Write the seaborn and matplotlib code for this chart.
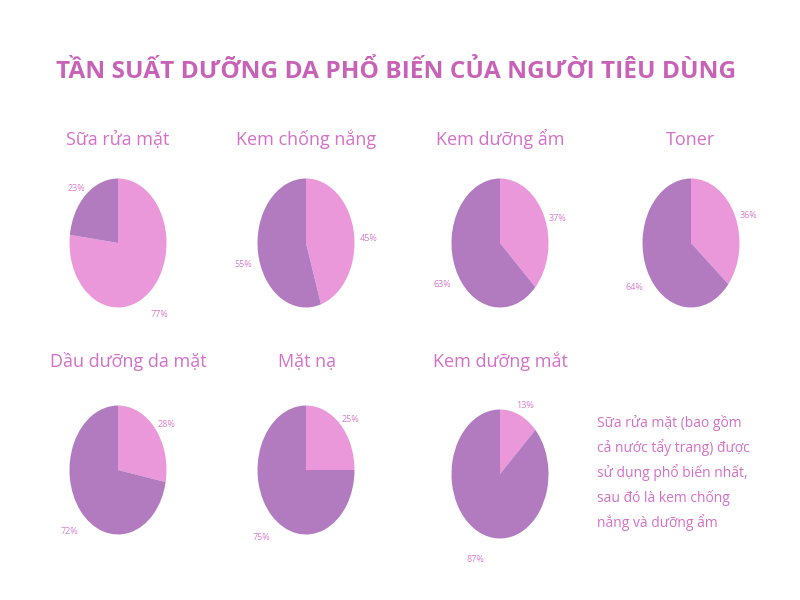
import matplotlib
matplotlib.use('Agg')
import matplotlib.pyplot as plt
import seaborn as sns

# data
title = 'TẦN SUẤT DƯỠNG DA PHỔ BIẾN CỦA NGƯỜI TIÊU DÙNG'
categories = ['Sữa rửa mặt', 'Kem chống nắng', 'Kem dưỡng ẩm', 'Toner',
              'Dầu dưỡng da mặt', 'Mặt nạ', 'Kem dưỡng mắt']
share_pink = [77, 45, 37, 36, 28, 25, 13]
share_purple = [23, 55, 63, 64, 72, 75, 87]
note_lines = ['Sữa rửa mặt (bao gồm',
              'cả nước tẩy trang) được',
              'sử dụng phổ biến nhất,',
              'sau đó là kem chống',
              'nắng và dưỡng ẩm']

sns.set_theme(style='white')
plt.rcParams['font.family'] = ['Open Sans', 'DejaVu Sans']

pal = sns.color_palette(['#EB98DB', '#B27BBF'])
title_col = '#C862B6'
text_col = '#D470C8'
pct_col = '#D97DCD'

W, H = 800, 600
fig = plt.figure(figsize=(8, 6), dpi=100)
fig.patch.set_facecolor('white')

# layout in pixels
col_x = [118, 306, 500, 691]
row_y = [243, 470]
title_y = [145, 367]
title_x_row2 = [128, 307, 500]
rx, ry = 48.5, 64.5


def px(x, y):
    return x / W, 1 - y / H


fig.text(*px(396, 78), title, ha='center', va='baseline', fontsize=17.6,
         fontweight='bold', color=title_col)

for i, name in enumerate(categories):
    r, c = divmod(i, 4)
    cx, cy = col_x[c], row_y[r]
    if i == 6:
        cy += 4
    w, h = 2.5 * rx, 2.5 * ry
    ax = fig.add_axes([(cx - w / 2) / W, (H - cy - h / 2) / H, w / W, h / H])
    vals = [share_pink[i], share_purple[i]]
    wedges, texts = ax.pie(vals, colors=pal, startangle=90, counterclock=False,
                           labels=[f'{v}%' for v in vals], labeldistance=1.3,
                           wedgeprops=dict(linewidth=0),
                           textprops=dict(color=pct_col, fontsize=6.5))
    for t in texts:
        t.set_ha('center')
        t.set_va('center')
        x0, y0 = t.get_position()
        t.set_position((x0, y0 - 0.13))
    ax.set_xlim(-1.25, 1.25)
    ax.set_ylim(-1.25, 1.25)
    ax.set_aspect('auto')
    ax.axis('off')
    tx = col_x[c] if r == 0 else title_x_row2[c]
    fig.text(*px(tx, title_y[r]), name, ha='center', va='baseline',
             fontsize=13, color=text_col)

for k, line in enumerate(note_lines):
    fig.text(*px(597, 427 + 25 * k), line, ha='left', va='baseline',
             fontsize=10, color=text_col)

fig.savefig('out.png', dpi=100, facecolor='white')
